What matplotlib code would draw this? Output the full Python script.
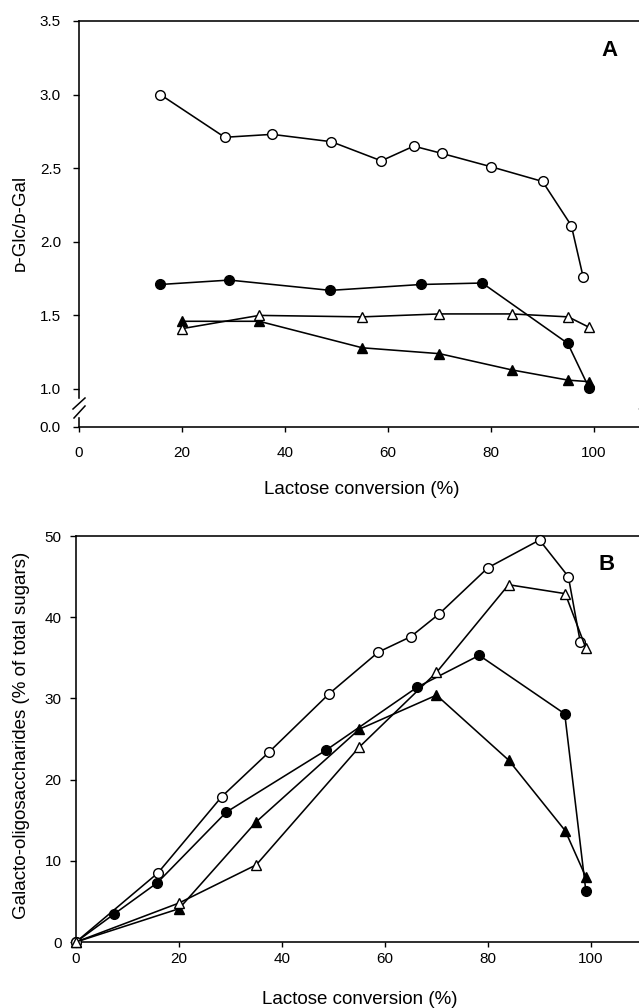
import matplotlib
matplotlib.use("Agg")
import matplotlib.pyplot as plt
from matplotlib.lines import Line2D

plt.rcParams['font.family'] = ['Liberation Sans', 'DejaVu Sans']

W, H = 639, 1008

# ---- panel A: D-Glc/D-Gal ratio vs lactose conversion ----------------------
a_oc_x = [15.8, 28.3, 37.5, 49.0, 58.7, 65.0, 70.5, 80.0, 90.0, 95.6, 97.9]
a_oc_y = [3.00, 2.71, 2.73, 2.68, 2.55, 2.65, 2.60, 2.51, 2.41, 2.11, 1.76]
a_fc_x = [15.8, 29.2, 48.8, 66.4, 78.3, 94.9, 99.0]
a_fc_y = [1.71, 1.74, 1.67, 1.71, 1.72, 1.31, 1.01]
a_ot_x = [20, 35, 55, 70, 84, 95, 99]
a_ot_y = [1.41, 1.50, 1.49, 1.51, 1.51, 1.49, 1.42]
a_ft_x = [20, 35, 55, 70, 84, 95, 99]
a_ft_y = [1.46, 1.46, 1.28, 1.24, 1.13, 1.06, 1.05]

# ---- panel B: GOS (% of total sugars) vs lactose conversion -----------------
b_oc_x = [0, 15.9, 28.3, 37.5, 49.2, 58.7, 65.0, 70.5, 80.0, 90.0, 95.6, 97.9]
b_oc_y = [0, 8.5, 17.9, 23.4, 30.6, 35.7, 37.6, 40.4, 46.1, 49.5, 45.0, 37.0]
b_fc_x = [0, 7.3, 15.8, 29.2, 48.5, 66.3, 78.3, 94.9, 99.0]
b_fc_y = [0, 3.4, 7.3, 16.0, 23.6, 31.4, 35.3, 28.1, 6.3]
b_ot_x = [0, 20, 35, 55, 70, 84, 95, 99]
b_ot_y = [0, 4.8, 9.5, 24.0, 33.2, 44.0, 42.9, 36.2]
b_ft_x = [0, 20, 35, 55, 70, 84, 95, 99]
b_ft_y = [0, 4.1, 14.8, 26.2, 30.4, 22.4, 13.7, 8.0]

x_ticks = [0, 20, 40, 60, 80, 100]
a_yticks = [1.0, 1.5, 2.0, 2.5, 3.0, 3.5]
b_yticks = [0, 10, 20, 30, 40, 50]


def rect(left, top, right, bottom):
    return [left / W, 1 - bottom / H, (right - left) / W, (bottom - top) / H]


def fxy(px, py):
    # pixel position (from top-left) -> figure fraction
    return px / W, 1 - py / H


def draw_series(ax, sets):
    for (x, y), (mk, fc, ms) in sets:
        ax.plot(x, y, color="black", lw=1.15, marker=mk, ms=ms, mfc=fc,
                mec="black", mew=1.0, clip_on=False, zorder=3)


def style_ticks(ax, xpad, ypad):
    ax.tick_params(axis="both", direction="out", width=1.0, labelsize=11)
    ax.tick_params(axis="x", length=3.5, pad=xpad)
    ax.tick_params(axis="y", length=4.5, pad=ypad)


fig = plt.figure(figsize=(W / 100, H / 100), dpi=100)

styles = [("o", "black", 7), ("^", "black", 7), ("o", "white", 7), ("^", "white", 7)]

# upper part of A (1.0 .. 3.5) and a thin lower strip holding 0.0 + x axis
axA = fig.add_axes(rect(79, 21, 645.5, 398))
axA0 = fig.add_axes(rect(79, 418, 645.5, 427))
ylo = 1.0 - 9 / 147.2
axA.set_ylim(ylo, 3.5)
axA.set_xlim(0, 110)
axA0.set_xlim(0, 110)
axA0.set_ylim(0, 0.06)
draw_series(axA, zip([(a_fc_x, a_fc_y), (a_ft_x, a_ft_y),
                      (a_oc_x, a_oc_y), (a_ot_x, a_ot_y)], styles))
axA.set_yticks(a_yticks)
axA.set_yticklabels([f"{v:.1f}" for v in a_yticks])
axA.set_xticks([])
axA.spines["bottom"].set_visible(False)
axA.spines["right"].set_visible(False)
axA0.spines["top"].set_visible(False)
axA0.spines["right"].set_visible(False)
axA0.set_yticks([0.0])
axA0.set_yticklabels(["0.0"])
axA0.set_xticks(x_ticks)
for ax in (axA, axA0):
    for s in ax.spines.values():
        s.set_linewidth(1.15)
    style_ticks(ax, 10, 8.5)

# break marks on the y axis
for x0 in (79, 645.5):
    for (px1, py1, px2, py2) in [(-6, 409, 6, 398), (-5, 418, 6, 406)]:
        fig.add_artist(Line2D([(x0 + px1) / W, (x0 + px2) / W],
                              [1 - py1 / H, 1 - py2 / H],
                              color="black", lw=1.1))

fig.text(*fxy(610, 51), "A", fontsize=16, fontweight="bold",
         ha="center", va="center")
fig.text(*fxy(20, 223), "ᴅ-Glc/ᴅ-Gal", rotation=90, fontsize=13.5,
         ha="center", va="center")
fig.text(*fxy(362, 494), "Lactose conversion (%)", fontsize=13.5,
         ha="center", va="baseline")

# ---- panel B ---------------------------------------------------------------
axB = fig.add_axes(rect(76, 536, 642.5, 942))
axB.set_xlim(0, 110)
axB.set_ylim(0, 50)
draw_series(axB, zip([(b_fc_x, b_fc_y), (b_ft_x, b_ft_y),
                      (b_oc_x, b_oc_y), (b_ot_x, b_ot_y)], styles))
axB.set_xticks(x_ticks)
axB.set_yticks(b_yticks)
axB.spines["right"].set_visible(False)
for s in axB.spines.values():
    s.set_linewidth(1.15)
style_ticks(axB, 4, 6)

fig.text(*fxy(607, 564), "B", fontsize=16, fontweight="bold",
         ha="center", va="center")
fig.text(*fxy(22, 735), "Galacto-oligosaccharides (% of total sugars)",
         rotation=90, fontsize=13.5, ha="center", va="center")
fig.text(*fxy(360, 1004), "Lactose conversion (%)", fontsize=13.5,
         ha="center", va="baseline")

fig.savefig("out.png", dpi=100)
